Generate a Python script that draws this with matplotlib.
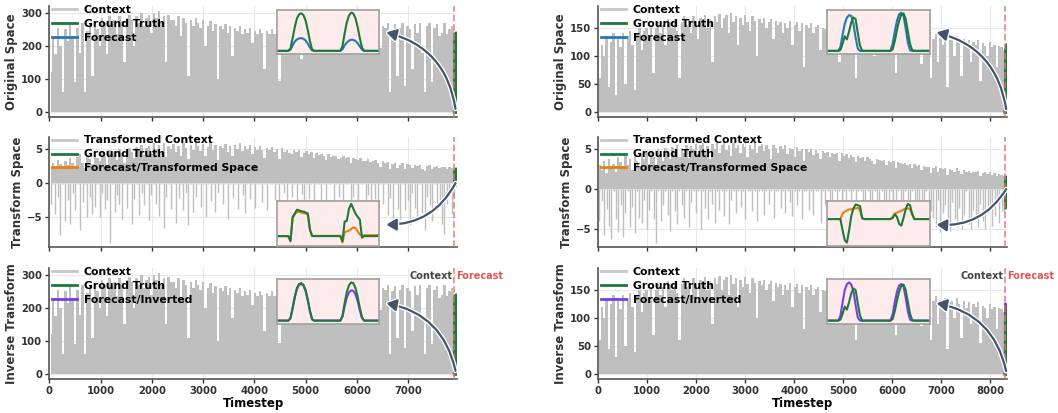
import numpy as np
import matplotlib.pyplot as plt
import matplotlib.patheffects as pe

STEP = 48
HORIZON = 48
CTX_LEN = [7896, 8300]

left_orig = [
    120, 230, 175, 255, 200, 60, 250, 215, 265, 230,
    90, 255, 180, 270, 60, 245, 270, 110, 275, 250,
    200, 285, 270, 175, 290, 265, 280, 235, 290, 275,
    150, 285, 295, 280, 200, 290, 270, 300, 260, 285,
    295, 240, 300, 285, 305, 270, 290, 150, 295, 280,
    280, 260, 290, 230, 285, 270, 110, 280, 260, 285,
    270, 255, 280, 200, 260, 275, 245, 265, 100, 260,
    250, 265, 240, 260, 170, 255, 245, 260, 235, 250,
    240, 255, 210, 245, 235, 250, 240, 130, 245, 235,
    250, 235, 240, 95, 245, 230, 240, 235, 225, 240,
    235, 240, 160, 230, 245, 240, 235, 180, 245, 240,
    235, 245, 180, 240, 250, 235, 245, 240, 230, 250,
    240, 245, 190, 250, 245, 255, 240, 250, 245, 260,
    255, 245, 265, 250, 195, 260, 255, 270, 60, 250,
    265, 110, 255, 270, 80, 260, 250, 130, 265, 240,
    270, 180, 60, 260, 270, 90, 255, 265, 230, 240,
    270, 235, 250, 260, 245,
]
right_orig = [
    60, 120, 100, 135, 45, 125, 140, 30, 130, 115,
    140, 50, 135, 145, 120, 40, 140, 150, 110, 145,
    150, 135, 155, 70, 150, 160, 140, 155, 120, 165,
    160, 150, 165, 145, 60, 160, 170, 155, 165, 140,
    170, 160, 130, 168, 155, 172, 150, 165, 90, 170,
    160, 175, 150, 168, 172, 140, 176, 160, 170, 120,
    168, 155, 172, 160, 145, 170, 162, 100, 165, 158,
    168, 150, 160, 165, 130, 162, 155, 160, 140, 158,
    150, 162, 120, 155, 160, 145, 158, 80, 155, 150,
    158, 140, 152, 155, 110, 150, 148, 155, 135, 150,
    145, 152, 90, 148, 140, 150, 130, 146, 142, 60,
    145, 138, 148, 120, 142, 145, 135, 100, 140, 144,
    138, 142, 115, 140, 135, 142, 70, 138, 140, 125,
    140, 136, 138, 110, 142, 135, 130, 85, 138, 132,
    135, 60, 130, 138, 90, 132, 120, 135, 45, 128,
    130, 100, 135, 125, 65, 130, 118, 128, 90, 125,
    120, 128, 55, 122, 118, 100, 125, 115, 120, 80,
    118, 115, 110,
]
left_tf_hi = [
    2.5, 3.0, 2.2, 3.4, 2.8, 2.0, 3.2, 2.6, 3.6, 3.0,
    2.4, 3.8, 4.3, 3.0, 2.2, 4.0, 3.5, 2.8, 4.2, 3.6,
    3.2, 4.5, 3.9, 2.7, 4.8, 4.2, 4.6, 3.4, 5.0, 4.4,
    3.0, 4.9, 5.2, 4.5, 3.6, 5.3, 4.8, 5.6, 4.1, 5.2,
    5.5, 4.3, 5.8, 5.0, 5.6, 4.4, 5.9, 3.8, 5.5, 5.0,
    5.7, 4.6, 5.4, 4.0, 5.8, 5.2, 3.5, 5.6, 4.8, 5.9,
    5.5, 4.7, 5.7, 4.0, 5.3, 5.8, 4.9, 5.6, 3.4, 5.4,
    5.2, 5.7, 4.6, 5.5, 3.9, 5.6, 5.0, 5.8, 4.7, 5.4,
    5.0, 5.6, 4.2, 5.3, 4.8, 5.5, 4.9, 3.6, 5.2, 4.8,
    5.3, 4.5, 5.0, 3.5, 5.2, 4.6, 4.9, 4.4, 4.2, 4.8,
    4.6, 4.9, 3.8, 4.4, 4.7, 4.3, 4.5, 3.6, 4.4, 4.1,
    4.3, 4.0, 3.4, 4.2, 3.8, 4.0, 3.9, 3.5, 3.7, 3.9,
    3.6, 3.8, 3.0, 3.7, 3.5, 3.4, 3.6, 3.3, 3.2, 3.5,
    3.1, 3.3, 3.4, 2.9, 2.4, 3.2, 3.0, 3.1, 2.0, 2.8,
    3.0, 2.2, 2.7, 2.9, 2.0, 2.8, 2.6, 2.2, 2.7, 2.5,
    2.6, 2.1, 1.8, 2.5, 2.6, 2.0, 2.4, 2.5, 2.2, 2.3,
    2.4, 2.1, 2.3, 2.2, 2.0,
]
left_tf_lo = [
    -3.0, -0.2, -4.5, -2.0, -7.6, -0.2, -5.5, -2.5, -6.0, -1.5,
    -4.0, -0.2, -6.8, -2.8, -0.2, -5.0, -2.0, -4.5, -3.5, -0.2,
    -5.0, -1.5, -3.8, -2.5, -8.7, -0.2, -4.2, -1.8, -3.0, -5.2,
    -0.2, -3.6, -0.2, -6.0, -2.4, -0.2, -4.6, -1.4, -3.2, -0.2,
    -5.4, -1.8, -0.2, -3.0, -4.8, -0.2, -6.6, -2.0, -0.2, -3.8,
    -0.2, -5.8, -2.2, -0.2, -4.0, -1.5, -6.2, -0.2, -4.3, -2.0,
    -0.2, -3.5, -0.2, -5.0, -0.2, -2.6, -0.2, -4.2, -1.4, -0.2,
    -3.0, -0.2, -5.2, -0.2, -2.2, -0.2, -3.8, -0.2, -1.8, -4.4,
    -0.2, -2.4, -0.2, -3.6, -0.2, -0.2, -2.8, -0.2, -4.0, -0.2,
    -0.2, -2.5, -0.2, -3.4, -0.2, -1.5, -4.2, -0.2, -2.0, -0.2,
    -3.0, -0.2, -1.6, -4.5, -0.2, -2.4, -0.2, -3.2, -0.2, -0.2,
    -2.6, -0.2, -4.0, -0.2, -0.2, -3.0, -0.2, -2.0, -0.2, -3.6,
    -0.2, -0.2, -4.4, -2.0, -0.2, -3.2, -0.2, -0.2, -5.0, -1.8,
    -3.5, -0.2, -2.4, -5.5, -0.2, -3.0, -0.2, -4.6, -2.2, -6.0,
    -0.2, -3.8, -5.2, -0.2, -4.0, -2.5, -6.2, -1.4, -3.6, -5.0,
    -0.2, -4.4, -6.8, -2.0, -3.2, -5.6, -0.2, -4.0, -2.8, -6.0,
    -7.4, -3.0, -1.5, -4.5, -2.0,
]
right_tf_hi = [
    3.0, 2.4, 3.5, 2.0, 3.8, 2.8, 3.2, 2.2, 4.0, 3.4,
    2.6, 4.2, 3.0, 3.8, 2.4, 4.4, 3.6, 2.9, 4.5, 3.8,
    4.6, 3.2, 4.8, 4.0, 3.0, 5.0, 4.4, 3.6, 5.2, 4.5,
    3.8, 5.3, 4.7, 5.5, 4.0, 5.2, 4.6, 5.6, 3.9, 5.4,
    5.0, 5.7, 4.4, 5.5, 5.8, 4.6, 5.4, 3.8, 5.7, 5.1,
    5.8, 4.5, 5.6, 5.9, 4.9, 5.5, 4.2, 5.8, 5.2, 5.6,
    4.6, 5.7, 5.3, 4.0, 5.6, 5.0, 5.8, 4.5, 5.4, 5.7,
    4.8, 5.5, 5.1, 3.8, 5.6, 5.2, 4.6, 5.4, 5.0, 5.5,
    4.4, 5.2, 5.0, 4.0, 5.3, 4.8, 5.1, 3.6, 5.0, 4.7,
    5.1, 4.3, 4.9, 4.6, 3.8, 4.8, 4.5, 4.7, 4.0, 4.6,
    4.4, 4.6, 3.5, 4.5, 4.2, 4.4, 3.9, 4.3, 4.0, 3.4,
    4.2, 3.9, 4.1, 3.5, 4.0, 3.8, 3.6, 3.2, 3.8, 3.7,
    3.6, 3.7, 3.0, 3.5, 3.4, 3.6, 2.6, 3.4, 3.3, 3.1,
    3.3, 3.0, 3.2, 2.7, 3.1, 2.9, 3.0, 2.4, 2.9, 2.8,
    2.8, 2.0, 2.7, 2.9, 2.2, 2.6, 2.5, 2.7, 1.8, 2.5,
    2.4, 2.2, 2.6, 2.3, 1.9, 2.4, 2.2, 2.3, 2.0, 2.2,
    2.1, 2.3, 1.7, 2.0, 2.2, 1.9, 2.1, 1.8, 2.0, 1.6,
    1.9, 1.8, 1.7,
]
right_tf_lo = [
    -4.0, -1.5, -5.8, -2.5, -4.6, -6.2, -0.2, -3.8, -5.4, -2.0,
    -6.0, -3.0, -0.2, -4.8, -2.2, -5.5, -0.2, -3.6, -4.2, -1.4,
    -5.0, -2.6, -0.2, -3.8, -6.8, -0.2, -4.0, -2.0, -0.2, -3.2,
    -5.2, -0.2, -2.8, -4.4, -0.2, -2.0, -3.6, -0.2, -4.8, -1.6,
    -0.2, -3.0, -0.2, -5.0, -0.2, -2.4, -3.8, -0.2, -1.8, -4.2,
    -0.2, -2.6, -0.2, -3.4, -0.2, -4.4, -1.4, -0.2, -3.0, -0.2,
    -2.2, -0.2, -3.8, -0.2, -0.2, -2.8, -0.2, -4.0, -0.2, -0.2,
    -3.2, -0.2, -1.8, -0.2, -3.6, -0.2, -0.2, -2.4, -0.2, -3.0,
    -0.2, -1.6, -3.4, -0.2, -2.0, -0.2, -3.8, -0.2, -0.2, -2.6,
    -0.2, -3.2, -0.2, -0.2, -4.2, -0.2, -2.0, -0.2, -3.0, -1.4,
    -0.2, -3.6, -0.2, -2.2, -0.2, -4.0, -0.2, -2.8, -0.2, -3.4,
    -0.2, -0.2, -3.0, -2.0, -0.2, -4.2, -1.4, -0.2, -3.6, -2.4,
    -0.2, -4.4, -1.6, -3.0, -0.2, -4.8, -2.0, -0.2, -3.8, -5.0,
    -0.2, -3.4, -4.6, -0.2, -2.6, -5.2, -1.6, -3.8, -4.4, -0.2,
    -5.0, -2.8, -3.6, -4.8, -1.4, -5.4, -3.0, -2.0, -4.6, -5.2,
    -1.6, -3.8, -4.8, -2.4, -5.0, -3.2, -0.2, -4.4, -5.0, -2.6,
    -3.6, -4.8, -1.8, -4.0, -5.0, -3.0, -2.2, -4.6, -3.4, -1.6,
    -4.2, -2.8, -3.0,
]

# 48-step forecast windows
left_gt = [0, 0, 0, 0, 0, 0, 15, 80, 150, 205, 230, 236, 225, 190, 130, 60,
           8, 0, 0, 0, 0, 0, 0, 0, 0, 0, 0, 0, 0, 0, 30, 110, 180, 222, 240,
           235, 205, 150, 80, 20, 0, 0, 0, 0, 0, 0, 0, 0]
left_fc = [0, 0, 0, 0, 0, 0, 8, 35, 58, 72, 78, 80, 76, 65, 45, 20, 3, 0, 0,
           0, 0, 0, 0, 0, 0, 0, 0, 0, 0, 0, 10, 35, 52, 64, 70, 69, 62, 48, 28,
           8, 0, 0, 0, 0, 0, 0, 0, 0]
left_inv = [0, 0, 0, 0, 0, 0, 15, 78, 148, 200, 226, 230, 220, 186, 128, 58,
            8, 0, 0, 0, 0, 0, 0, 0, 0, 0, 0, 0, 0, 0, 25, 90, 145, 178, 190,
            187, 165, 122, 65, 16, 0, 0, 0, 0, 0, 0, 0, 0]
left_gt_tf = [0, 0, 0, 0, 0, 0, -0.34, 1.26, 1.47, 1.72, 1.68, 1.62, 1.6,
              1.55, 1.47, 0.42, 0, 0, 0, 0, 0, 0, 0, 0, 0, 0, 0, 0, 0, 0,
              -0.32, 0.95, 1.0, 1.79, 2.1, 1.79, 1.47, 1.26, 1.09, -0.1, 0,
              0, 0, 0, 0, 0, 0, 0.08]
left_fc_tf = [0, 0, 0, 0, 0, 0, -0.25, 1.15, 1.43, 1.58, 1.58, 1.53, 1.5,
              1.47, 1.4, 0.38, 0.02, 0.02, 0.02, 0.02, 0.02, 0.02, 0.02, 0.02,
              0.02, 0.02, 0.02, 0.02, 0.02, 0.02, -0.42, 0.25, 0.31, 0.36,
              0.46, 0.57, 0.52, 0.31, 0.1, 0.04, 0.06, 0.06, 0.06, 0.06, 0.06,
              0.06, 0.06, 0.06]
right_gt = [0, 0, 0, 0, 0, 0, 3, 22, 46, 36, 61, 90, 105, 100, 56, 17, 0, 0,
            0, 0, 0, 0, 0, 0, 0, 0, 0, 0, 0, 0, 5, 31, 66, 95, 115, 118, 100,
            61, 22, 2, 0, 0, 0, 0, 0, 0, 0, 0]
right_fc = [0, 0, 0, 0, 0, 0, 12, 51, 85, 105, 112, 110, 85, 41, 7, 0, 0, 0,
            0, 0, 0, 0, 0, 0, 0, 0, 0, 0, 0, 0, 22, 61, 95, 115, 120, 110, 71,
            26, 2, 0, 0, 0, 0, 0, 0, 0, 0, 0]
right_inv = [0, 0, 0, 0, 0, 0, 15, 60, 100, 120, 125, 118, 95, 50, 10, 0, 0,
             0, 0, 0, 0, 0, 0, 0, 0, 0, 0, 0, 0, 0, 20, 60, 95, 115, 120, 112,
             75, 30, 3, 0, 0, 0, 0, 0, 0, 0, 0, 0]
right_gt_tf = [0, 0, 0, 0, 0, 0, 0, -1.16, -2.15, -2.4, -1.16, 0.33, 1.09,
               1.49, 1.42, 1.32, 0.1, 0, 0, 0, 0, 0, 0, 0, 0, 0, 0, 0, 0, 0,
               0.1, 0.5, 0.23, -0.5, -0.66, 0.1, 0.99, 1.55, 1.42, 0.5, 0, 0,
               0, 0, 0, 0, 0, 0]
right_fc_tf = [0, 0, 0, 0, 0, 0, 0, 0.56, 0.76, 0.89, 0.99, 0.99, 1.06, 1.09,
               1.16, 0.89, 0.1, 0, 0, 0, 0, 0, 0, 0, 0, 0, 0, 0, 0, 0, 0.23,
               0.56, 0.66, 0.76, 0.83, 0.96, 1.09, 1.09, 0.99, 0.5, 0, 0, 0, 0,
               0, 0, 0, 0]

GRAY = '#bfbfbf'
GREEN = '#1c7a3a'
BLUE = '#2378b5'
ORANGE = '#e8820c'
PURPLE = '#7b3cf0'
ARROW = '#44546a'

plt.rcParams['font.family'] = 'DejaVu Sans'
plt.rcParams['font.weight'] = 'bold'

fig = plt.figure(figsize=(10.58, 4.13), dpi=100)

col_x = [(0.0466, 0.3851), (0.5655, 0.3866)]
row_y = [0.7167, 0.4012, 0.0823]
row_h = 0.268

cols = [
    dict(orig=left_orig, hi=left_tf_hi, lo=left_tf_lo, gt=left_gt, fc=left_fc,
         inv=left_inv, gt_tf=left_gt_tf, fc_tf=left_fc_tf,
         ylim_o=(-15, 320), ylim_t=(-9.4, 6.8), yt_o=[0, 100, 200, 300],
         xt=range(0, 8000, 1000)),
    dict(orig=right_orig, hi=right_tf_hi, lo=right_tf_lo, gt=right_gt,
         fc=right_fc, inv=right_inv, gt_tf=right_gt_tf, fc_tf=right_fc_tf,
         ylim_o=(-8.5, 188), ylim_t=(-7.3, 6.6), yt_o=[0, 50, 100, 150],
         xt=range(0, 9000, 1000)),
]

insets = [[0.56, 0.57, 0.25, 0.4], [0.56, 0.015, 0.25, 0.405],
          [0.56, 0.5, 0.25, 0.4]]
tips_y = [0.765, 0.205, 0.685]
rads = [0.33, -0.3, 0.33]


def style_axes(ax, xmax, bottom):
    for s in ['top', 'right']:
        ax.spines[s].set_visible(False)
    for s in ['left', 'bottom']:
        ax.spines[s].set_color('#555555')
        ax.spines[s].set_linewidth(1.2)
    ax.set_xlim(0, xmax)
    ax.grid(True, color='#e8e8e8', lw=0.8, zorder=0)
    ax.set_axisbelow(True)
    ax.tick_params(colors='#333333', labelsize=7.3, length=3, width=1, pad=2)
    if not bottom:
        ax.tick_params(labelbottom=False)
    else:
        ax.set_xlabel('Timestep', fontsize=8.5, fontweight='bold', labelpad=1)


for c, col in enumerate(cols):
    ctx = CTX_LEN[c]
    xs = 24 + STEP * np.arange(len(col['orig']))
    fx = np.arange(ctx, ctx + HORIZON)
    xmax = ctx + HORIZON
    rows = [
        ('Original Space', 'Context', None, col['orig'],
         col['gt'], col['fc'], 'Forecast', BLUE, col['ylim_o']),
        ('Transform Space', 'Transformed Context', col['lo'], col['hi'],
         col['gt_tf'], col['fc_tf'], 'Forecast/Transformed Space', ORANGE,
         col['ylim_t']),
        ('Inverse Transform', 'Context', None, col['orig'],
         col['gt'], col['inv'], 'Forecast/Inverted', PURPLE, col['ylim_o']),
    ]
    for r, (ylab, clab, lo, hi, gt, fc, flab, fcol, ylim) in enumerate(rows):
        ax = fig.add_axes([col_x[c][0], row_y[r], col_x[c][1], row_h])
        ax.fill_between(xs, 0, hi, step='mid', color=GRAY, lw=0, zorder=1)
        if lo is not None:
            ax.vlines(xs, lo, 0, color=GRAY, lw=1.0, zorder=1)
        ax.plot([], [], color='#c8c8c8', lw=2.0, label=clab)
        ax.plot(fx, gt, color=GREEN, lw=2.0, label='Ground Truth', zorder=3)
        ax.plot(fx, fc, color=fcol, lw=2.0, label=flab, zorder=2)
        ax.axvline(ctx, color='#e57373', ls='--', lw=1.3, alpha=0.8, zorder=4)
        ax.set_ylim(*ylim)
        if r == 1:
            ax.set_yticks([-5, 0, 5])
        else:
            ax.set_yticks(col['yt_o'])
        ax.set_xticks(list(col['xt']))
        style_axes(ax, xmax, r == 2)
        ax.set_ylabel(ylab, fontsize=8.5, fontweight='bold', color='#333333',
                      labelpad=2)
        ax.legend(loc='upper left', bbox_to_anchor=(-0.004, 1.05),
                  borderaxespad=0, frameon=False, handlelength=2.3,
                  handletextpad=0.65, labelspacing=0.36,
                  prop={'weight': 'bold', 'size': 7.8})

        # zoomed view of the forecast window
        ins = ax.inset_axes(insets[r])
        ins.set_facecolor('#fdeceb')
        ins.plot(fc, color=fcol, lw=1.5)
        ins.plot(gt, color=GREEN, lw=1.5)
        ins.set_xlim(0, HORIZON - 1)
        ins.margins(y=0.08)
        ins.set_xticks([])
        ins.set_yticks([])
        for s in ins.spines.values():
            s.set_color('#a0a0a0')
            s.set_linewidth(1.2)

        start_y = 0 if r == 1 else ylim[1] * 0.03
        ax.annotate('', xy=(0.827, tips_y[r]), xycoords='axes fraction',
                    xytext=(ctx + HORIZON // 2, start_y), textcoords='data',
                    arrowprops=dict(arrowstyle='-|>,head_length=0.6,head_width=0.35',
                                    color=ARROW, lw=1.6, shrinkA=0, shrinkB=0,
                                    connectionstyle='arc3,rad=%s' % rads[r],
                                    path_effects=[pe.withStroke(linewidth=3.5,
                                                                foreground='white')]),
                    zorder=5)

        if r == 2:
            ax.text(ctx - 40, 0.935, 'Context', ha='right', va='center',
                    fontsize=7, fontweight='bold', color='#444444',
                    transform=ax.get_xaxis_transform())
            ax.text(ctx + 40, 0.935, 'Forecast', ha='left', va='center',
                    fontsize=7, fontweight='bold', color='#e05555',
                    transform=ax.get_xaxis_transform(), clip_on=False)

fig.savefig('out.png', dpi=100)
